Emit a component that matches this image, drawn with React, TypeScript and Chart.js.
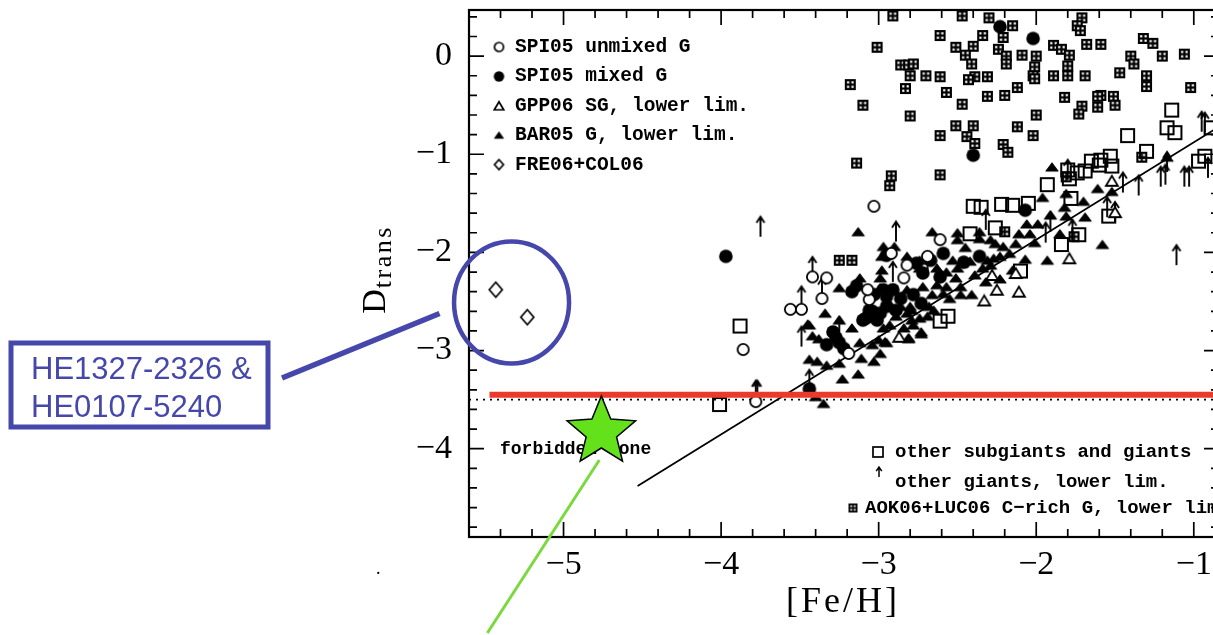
import { useEffect, useRef } from "react";
import { Chart, registerables } from "chart.js";

Chart.register(...registerables);

const CANVAS_W = 1240;
const CANVAS_H = 635;

// axis ranges and labelled ticks
const X_MIN = -5.6;
const X_MAX = -0.84;
const Y_MIN = -4.9;
const Y_MAX = 0.47;
const xTickValues = [-5, -4, -3, -2, -1];
const yTickValues = [0, -1, -2, -3, -4];
const MINOR_STEP = 0.2;

type Pt = [number, number];

// SPI05 unmixed giants
const spiUnmixed: Pt[] = [
  [-3.03, -1.53], [-3.42, -2.25], [-3.33, -2.26], [-3.36, -2.47], [-3.56, -2.58], [-3.49, -2.58],
  [-3.86, -2.99], [-3.78, -3.52], [-3.19, -3.03], [-2.61, -1.87], [-2.92, -2.01], [-2.84, -2.26],
  [-2.82, -2.13], [-2.69, -2.04], [-3.06, -2.48], [-3.07, -2.38],
];

// SPI05 mixed giants
const spiMixed: Pt[] = [
  [-3.97, -2.04], [-2.23, 0.3], [-2.02, 0.18], [-2.4, -1.01], [-2.07, -1.57], [-3.14, -2.34],
  [-2.59, -2.01], [-2.95, -2.03], [-2.76, -2.11], [-2.67, -2.08], [-2.46, -2.1], [-2.36, -2.04],
  [-2.97, -2.38], [-2.91, -2.38], [-3.04, -2.6], [-2.99, -2.62], [-2.95, -2.55], [-3.08, -2.67],
  [-3.29, -2.81], [-3.27, -2.87], [-3.25, -2.92], [-3.22, -2.98], [-2.72, -2.21], [-2.61, -2.25],
  [-2.73, -2.52], [-3.03, -2.43], [-2.95, -2.45], [-2.86, -2.47], [-2.78, -2.43], [-3.17, -2.4],
  [-3.06, -2.59], [-3.1, -2.69], [-3.01, -2.69], [-2.89, -2.59], [-3.44, -3.39], [-3.33, -2.94],
];

// GPP06 subgiants, lower limits
const gppSubgiants: Pt[] = [
  [-1.52, -1.27], [-1.79, -2.06], [-2.11, -2.4], [-2.25, -2.38], [-2.33, -2.49], [-2.28, -2.23],
  [-2.13, -2.21], [-2.87, -2.86], [-1.5, -1.59],
];

// BAR05 giants, lower limits
const barGiants: Pt[] = [
  [-3.13, -1.79], [-1.9, -1.13], [-1.96, -1.44], [-1.81, -1.4], [-1.61, -1.35], [-1.52, -1.38],
  [-1.7, -1.48], [-1.69, -1.64], [-1.82, -1.54], [-1.81, -1.63], [-1.85, -1.81], [-1.58, -1.92],
  [-1.93, -2.08], [-2.06, -1.71], [-2.04, -1.81], [-1.99, -1.71], [-2.01, -1.9], [-2.11, -1.81],
  [-2.13, -1.91], [-2.07, -2.07], [-2.17, -2.01], [-2.21, -1.94], [-2.26, -1.91], [-2.29, -1.87],
  [-2.36, -1.86], [-2.23, -2.04], [-2.41, -2.43], [-2.66, -1.79], [-2.5, -1.8], [-2.5, -1.87],
  [-2.36, -1.79], [-3.25, -2.36], [-3.44, -2.74], [-3.34, -2.62], [-3.42, -2.85], [-3.38, -2.88],
  [-3.25, -2.69], [-3.17, -2.77], [-3.39, -3.11], [-3.33, -3.15], [-3.25, -3.13], [-3.12, -2.26],
  [-2.98, -2.18], [-2.99, -2.26], [-2.98, -2.04], [-2.97, -1.94], [-2.9, -1.94], [-2.82, -2.04],
  [-2.74, -2.08], [-2.74, -2.16], [-2.53, -2.08], [-2.47, -2.11], [-2.42, -2.09], [-2.31, -2.08],
  [-2.27, -2.06], [-2.63, -2.16], [-2.57, -2.2], [-2.5, -2.16], [-2.51, -2.26], [-2.39, -2.23],
  [-2.34, -2.16], [-2.29, -2.13], [-2.99, -2.36], [-2.93, -2.38], [-2.82, -2.38], [-2.72, -2.35],
  [-2.63, -2.33], [-2.57, -2.35], [-2.48, -2.35], [-2.66, -2.43], [-2.59, -2.42], [-2.55, -2.47],
  [-2.48, -2.43], [-2.79, -2.59], [-2.68, -2.55], [-2.93, -2.53], [-2.86, -2.55], [-2.8, -2.55],
  [-2.97, -2.77], [-2.93, -2.74], [-2.84, -2.77], [-2.79, -2.69], [-2.74, -2.67], [-2.65, -2.59],
  [-2.69, -2.65], [-2.89, -2.65], [-2.82, -2.62], [-2.78, -2.74], [-2.73, -2.81], [-2.81, -2.87],
  [-3.0, -2.89], [-2.95, -2.92], [-3.04, -2.94], [-3.12, -2.92], [-3.11, -3.08], [-3.03, -3.11],
  [-2.99, -3.03], [-3.23, -3.29], [-3.13, -3.24], [-3.4, -3.47], [-3.35, -3.54], [-2.81, -2.88],
  [-2.73, -2.83], [-2.96, -2.91], [-3.45, -2.73], [-3.44, -3.09], [-1.91, -1.62], [-2.32, -2.3],
  [-2.23, -2.27], [-2.15, -2.18], [-2.45, -1.95], [-1.17, -1.03],
];

// FRE06 + COL06 stars
const freCol: Pt[] = [[-5.43, -2.38], [-5.23, -2.66]];

// other subgiants and giants
const otherSubgiants: Pt[] = [
  [-3.88, -2.75], [-4.01, -3.55], [-1.14, -0.55], [-1.17, -0.73], [-1.12, -0.78], [-1.42, -0.81],
  [-1.3, -0.97], [-0.93, -1.02], [-0.97, -1.07], [-0.89, -0.73], [-1.65, -1.07], [-1.59, -1.06],
  [-1.53, -1.02], [-1.52, -1.12], [-1.6, -1.11], [-1.8, -1.16], [-1.79, -1.25], [-1.74, -1.19],
  [-1.69, -1.17], [-1.93, -1.31], [-1.78, -1.45], [-2.4, -1.53], [-2.35, -1.54], [-2.22, -1.51],
  [-2.15, -1.52], [-2.05, -1.5], [-1.54, -1.63], [-1.84, -1.92], [-1.73, -1.82], [-2.42, -1.81],
  [-2.26, -1.75], [-2.1, -2.19], [-2.56, -2.65], [-2.61, -2.7],
];

// other giants, lower limits
const otherGiantsLim: Pt[] = [
  [-3.75, -1.84], [-2.89, -1.89], [-3.42, -2.25], [-3.49, -2.55], [-3.49, -2.96], [-3.25, -2.86],
  [-3.78, -3.51], [-3.77, -3.51], [-3.44, -3.4], [-2.91, -2.3], [-2.69, -2.23], [-2.32, -1.77],
  [-3.36, -2.47], [-0.95, -0.77], [-0.93, -0.78], [-1.18, -1.31], [-1.17, -1.18], [-1.21, -1.33],
  [-1.06, -1.33], [-1.03, -1.33], [-0.91, -1.24], [-1.35, -1.42], [-1.45, -1.39], [-1.8, -1.26],
  [-1.55, -1.64], [-1.5, -1.69], [-1.91, -1.79], [-1.94, -1.9], [-1.77, -1.87], [-1.11, -2.13],
];

// AOK06 + LUC06 carbon-rich giants, lower limits
const carbonRich: Pt[] = [
  [-2.91, 0.41], [-2.61, 0.21], [-3.01, 0.09], [-2.51, 0.09], [-2.86, -0.09], [-2.81, -0.09],
  [-2.78, -0.08], [-2.8, -0.2], [-2.7, -0.2], [-2.61, -0.21], [-3.18, -0.29], [-2.83, -0.33],
  [-2.57, -0.37], [-2.47, -0.49], [-3.1, -0.5], [-2.8, -0.61], [-2.51, -0.71], [-2.61, -0.81],
  [-3.14, -1.09], [-2.92, -1.22], [-2.93, -1.32], [-2.61, -1.21], [-2.47, 0.41], [-2.3, 0.39],
  [-2.15, 0.31], [-2.34, 0.21], [-2.21, 0.19], [-2.4, 0.1], [-2.24, 0.07], [-2.19, 0.0],
  [-2.19, -0.08], [-2.45, 0.01], [-2.41, -0.08], [-2.09, 0.01], [-2.0, 0.0], [-2.01, -0.11],
  [-2.02, -0.2], [-2.01, -0.23], [-1.89, 0.11], [-1.84, 0.07], [-1.79, 0.01], [-1.8, -0.1],
  [-1.8, -0.2], [-1.71, 0.39], [-1.74, 0.31], [-1.72, 0.26], [-1.68, 0.12], [-1.59, 0.12],
  [-1.89, -0.2], [-1.69, -0.2], [-1.47, -0.17], [-1.4, 0.0], [-1.38, -0.08], [-1.32, 0.18],
  [-1.26, 0.13], [-1.3, -0.2], [-1.3, -0.31], [-1.2, 0.0], [-1.06, 0.02], [-1.02, -0.32],
  [-2.39, -0.21], [-2.43, -0.24], [-2.31, -0.21], [-2.12, -0.32], [-2.31, -0.41], [-2.2, -0.4],
  [-1.82, -0.42], [-1.71, -0.51], [-1.73, -0.59], [-1.59, -0.4], [-1.61, -0.41], [-1.61, -0.52],
  [-1.51, -0.41], [-1.5, -0.5], [-2.0, -0.6], [-2.4, -0.71], [-2.12, -0.72], [-2.44, -0.82],
  [-2.39, -0.89], [-2.02, -0.81], [-2.21, -0.9], [-2.18, -0.98], [-3.25, -2.08], [-3.17, -2.08],
  [-1.33, -1.03], [-1.81, -1.23], [-1.76, -1.84], [-2.2, -1.79],
];

// linear trend line end points
const trendLine: Pt[] = [[-4.53, -4.38], [-0.84, -0.72]];

// limit levels
const transitionLimit = -3.45;
const transitionLimitStart = -5.47;
const dottedLevel = -3.5;

// highlighted objects
const starFeH = -4.76;
const starD = -3.83;
const circledFeH = -5.33;
const circledD = -2.51;

const BLUE = "#4548aa";
const RED = "#ea3a2c";
const GREEN_FILL = "#63e21c";
const GREEN_LINE = "#7ad93e";

const toXY = (pts: Pt[]) => pts.map(([x, y]) => ({ x, y }));
const fmtTick = (v: number) => (v < 0 ? "\u2212" + Math.abs(v) : String(v));

type Draw = (g: CanvasRenderingContext2D, cx: number, cy: number) => void;

function mk(w: number, h: number, draw: Draw): HTMLCanvasElement {
  const c = document.createElement("canvas");
  c.width = w;
  c.height = h;
  const g = c.getContext("2d")!;
  g.strokeStyle = "#000";
  g.fillStyle = "#000";
  g.lineJoin = "miter";
  draw(g, w / 2, h / 2);
  return c;
}

const openCircle = (r: number, lw: number) =>
  mk(Math.ceil(2 * r + lw + 2), Math.ceil(2 * r + lw + 2), (g, cx, cy) => {
    g.beginPath();
    g.arc(cx, cy, r, 0, Math.PI * 2);
    g.fillStyle = "#fff";
    g.fill();
    g.lineWidth = lw;
    g.stroke();
  });

const filledCircle = (r: number) =>
  mk(Math.ceil(2 * r + 2), Math.ceil(2 * r + 2), (g, cx, cy) => {
    g.beginPath();
    g.arc(cx, cy, r, 0, Math.PI * 2);
    g.fill();
  });

const openTriangle = (w: number, h: number, lw: number) =>
  mk(Math.ceil(w + 4), Math.ceil(h + 4), (g, cx, cy) => {
    g.beginPath();
    g.moveTo(cx - w / 2, cy + h / 2);
    g.lineTo(cx + w / 2, cy + h / 2);
    g.lineTo(cx, cy - h / 2);
    g.closePath();
    g.fillStyle = "#fff";
    g.fill();
    g.lineWidth = lw;
    g.stroke();
  });

const filledTriangle = (w: number, h: number) =>
  mk(Math.ceil(w + 4), Math.ceil(h + 4), (g, cx, cy) => {
    g.beginPath();
    g.moveTo(cx - w / 2, cy + h / 2);
    g.lineTo(cx + w / 2, cy + h / 2);
    g.lineTo(cx, cy - h / 2);
    g.closePath();
    g.lineJoin = "round";
    g.lineWidth = 1.2;
    g.fill();
    g.stroke();
  });

const diamond = (w: number, h: number, lw: number) =>
  mk(Math.ceil(w + 4), Math.ceil(h + 4), (g, cx, cy) => {
    g.beginPath();
    g.moveTo(cx, cy - h / 2);
    g.lineTo(cx + w / 2, cy);
    g.lineTo(cx, cy + h / 2);
    g.lineTo(cx - w / 2, cy);
    g.closePath();
    g.fillStyle = "#fff";
    g.fill();
    g.lineWidth = lw;
    g.stroke();
  });

const openSquare = (s: number, lw: number) =>
  mk(Math.ceil(s + lw + 2), Math.ceil(s + lw + 2), (g, cx, cy) => {
    g.lineWidth = lw;
    g.strokeRect(cx - s / 2, cy - s / 2, s, s);
  });

const gridSquare = (s: number) =>
  mk(s + 2, s + 2, (g, cx, cy) => {
    const x0 = cx - s / 2;
    const y0 = cy - s / 2;
    g.fillRect(x0, y0, s, s);
    g.fillStyle = "#fff";
    const d = s * 0.2;
    const a = s * 0.2;
    const b = s * 0.6;
    g.fillRect(x0 + a, y0 + a, d, d);
    g.fillRect(x0 + b, y0 + a, d, d);
    g.fillRect(x0 + a, y0 + b, d, d);
    g.fillRect(x0 + b, y0 + b, d, d);
  });

// arrow whose tail sits on the image centre and points upward
const upArrow = (len: number, head: number, lw: number) =>
  mk(Math.ceil(2 * head + 6), Math.ceil(2 * len + 6), (g, cx, cy) => {
    g.lineWidth = lw;
    g.lineCap = "butt";
    g.beginPath();
    g.moveTo(cx, cy);
    g.lineTo(cx, cy - len);
    g.moveTo(cx - head, cy - len + head * 1.5);
    g.lineTo(cx, cy - len);
    g.lineTo(cx + head, cy - len + head * 1.5);
    g.stroke();
  });

function buildMarkers() {
  return {
    openCircle: openCircle(5.6, 1.8),
    filledCircle: filledCircle(6.8),
    openTriangle: openTriangle(12, 10, 1.8),
    filledTriangle: filledTriangle(12, 8),
    diamond: diamond(13, 15, 1.7),
    openSquare: openSquare(13, 2),
    gridSquare: gridSquare(11),
    arrow: upArrow(20, 4, 1.9),
    lgOpenCircle: openCircle(4.5, 1.7),
    lgFilledCircle: filledCircle(5.2),
    lgOpenTriangle: openTriangle(9.5, 8, 1.7),
    lgFilledTriangle: filledTriangle(8.5, 6),
    lgDiamond: diamond(9, 10, 1.7),
    lgOpenSquare: openSquare(10, 1.7),
    lgGridSquare: gridSquare(9),
    lgArrow: upArrow(10, 2.8, 1.5),
  };
}

export default function App() {
  const ref = useRef<HTMLCanvasElement>(null);

  useEffect(() => {
    const canvas = ref.current;
    if (!canvas) return;
    const m = buildMarkers();

    const framePlugin = {
      id: "frameTicks",
      beforeDatasetsDraw(chart: any) {
        const { ctx, chartArea: a, scales } = chart;
        const xs = scales.x;
        const ys = scales.y;
        ctx.save();
        ctx.strokeStyle = "#000";
        ctx.lineWidth = 1.7;
        ctx.beginPath();
        const kx0 = Math.ceil(X_MIN / MINOR_STEP - 1e-6);
        const kx1 = Math.floor(X_MAX / MINOR_STEP + 1e-6);
        for (let k = kx0; k <= kx1; k++) {
          const v = k * MINOR_STEP;
          const px = xs.getPixelForValue(v);
          if (px < a.left + 1 || px > a.right - 1) continue;
          const len = Math.abs(v - Math.round(v)) < 1e-6 ? 15 : 8;
          ctx.moveTo(px, a.bottom);
          ctx.lineTo(px, a.bottom - len);
          ctx.moveTo(px, a.top);
          ctx.lineTo(px, a.top + len);
        }
        const ky0 = Math.ceil(Y_MIN / MINOR_STEP - 1e-6);
        const ky1 = Math.floor(Y_MAX / MINOR_STEP + 1e-6);
        for (let k = ky0; k <= ky1; k++) {
          const v = k * MINOR_STEP;
          const py = ys.getPixelForValue(v);
          if (py < a.top + 1 || py > a.bottom - 1) continue;
          const len = Math.abs(v - Math.round(v)) < 1e-6 ? 15 : 8;
          ctx.moveTo(a.left, py);
          ctx.lineTo(a.left + len, py);
          ctx.moveTo(a.right, py);
          ctx.lineTo(a.right - len, py);
        }
        ctx.stroke();
        ctx.lineWidth = 2.2;
        ctx.strokeRect(a.left, a.top, a.right - a.left, a.bottom - a.top);
        ctx.restore();
      },
    };

    const decorPlugin = {
      id: "decor",
      afterDraw(chart: any) {
        const { ctx, chartArea: a, scales } = chart;
        const xs = scales.x;
        const ys = scales.y;
        const put = (img: HTMLCanvasElement, x: number, y: number) =>
          ctx.drawImage(img, x - img.width / 2, y - img.height / 2);

        ctx.save();
        ctx.fillStyle = "#000";
        ctx.textBaseline = "middle";
        ctx.textAlign = "left";

        // upper-left key
        ctx.font = "bold 19.5px 'Liberation Mono', monospace";
        const keyRows: [HTMLCanvasElement, string][] = [
          [m.lgOpenCircle, "SPI05 unmixed G"],
          [m.lgFilledCircle, "SPI05 mixed G"],
          [m.lgOpenTriangle, "GPP06 SG, lower lim."],
          [m.lgFilledTriangle, "BAR05 G, lower lim."],
          [m.lgDiamond, "FRE06+COL06"],
        ];
        keyRows.forEach(([img, label], i) => {
          const y = 47 + i * 29.4;
          put(img, 499, y);
          ctx.fillText(label, 515, y);
        });

        // lower-right key
        ctx.font = "bold 19px 'Liberation Mono', monospace";
        put(m.lgOpenSquare, 878, 452);
        ctx.fillText("other subgiants and giants", 895, 452);
        put(m.lgArrow, 879, 477);
        ctx.fillText("other giants, lower lim.", 895, 482);
        put(m.lgGridSquare, 853, 508);
        ctx.fillText("AOK06+LUC06 C\u2212rich G, lower lim.", 865, 508);

        // forbidden zone label
        ctx.font = "bold 18px 'Liberation Mono', monospace";
        ctx.fillText("forbidden zone", 500, 449);

        // x-axis title
        ctx.font = "36px 'Liberation Serif', serif";
        (ctx as any).letterSpacing = "3px";
        ctx.textAlign = "center";
        ctx.textBaseline = "alphabetic";
        ctx.fillText("[Fe/H]", (a.left + a.right) / 2 - 1, 612);

        // y-axis title with subscript
        ctx.save();
        ctx.translate(385, 270);
        ctx.rotate(-Math.PI / 2);
        ctx.textAlign = "left";
        ctx.font = "34px 'Liberation Serif', serif";
        (ctx as any).letterSpacing = "0px";
        const dW = ctx.measureText("D").width;
        ctx.font = "26px 'Liberation Serif', serif";
        (ctx as any).letterSpacing = "2.5px";
        const sW = ctx.measureText("trans").width;
        const start = -(dW + sW) / 2;
        ctx.font = "34px 'Liberation Serif', serif";
        (ctx as any).letterSpacing = "0px";
        ctx.fillText("D", start, 0);
        ctx.font = "26px 'Liberation Serif', serif";
        (ctx as any).letterSpacing = "2.5px";
        ctx.fillText("trans", start + dW + 1, 6);
        ctx.restore();
        (ctx as any).letterSpacing = "0px";

        // stray dot below the axis
        ctx.font = "18px 'Liberation Serif', serif";
        ctx.textAlign = "left";
        ctx.fillText(".", 376, 574);

        // blue callout around the two most iron-poor stars
        const ex = xs.getPixelForValue(circledFeH);
        const ey = ys.getPixelForValue(circledD);
        ctx.strokeStyle = BLUE;
        ctx.lineWidth = 4.5;
        ctx.beginPath();
        ctx.ellipse(ex, ey, 57.5, 61, 0, 0, Math.PI * 2);
        ctx.stroke();
        ctx.lineWidth = 5.5;
        ctx.beginPath();
        ctx.moveTo(ex - 72, ey + 11);
        ctx.lineTo(282, 378);
        ctx.stroke();
        ctx.lineWidth = 5;
        ctx.strokeRect(11, 343, 257, 84);
        ctx.fillStyle = BLUE;
        ctx.font = "31px 'Liberation Sans', Arial, sans-serif";
        ctx.fillText("HE1327-2326 &", 31, 379);
        ctx.fillText("HE0107-5240", 31, 417);

        // green star and its pointer line
        const sx = xs.getPixelForValue(starFeH);
        const sy = ys.getPixelForValue(starD);
        ctx.strokeStyle = GREEN_LINE;
        ctx.lineWidth = 3;
        ctx.beginPath();
        ctx.moveTo(sx - 2, sy + 28);
        ctx.lineTo(sx - 114, sy + 201);
        ctx.stroke();

        const R = 36;
        const r = 16;
        ctx.beginPath();
        for (let i = 0; i < 10; i++) {
          const ang = -Math.PI / 2 + (i * Math.PI) / 5;
          const rad = i % 2 === 0 ? R : r;
          const px = sx + rad * Math.cos(ang);
          const py = sy + rad * Math.sin(ang);
          if (i === 0) ctx.moveTo(px, py);
          else ctx.lineTo(px, py);
        }
        ctx.closePath();
        ctx.fillStyle = GREEN_FILL;
        ctx.fill();
        ctx.strokeStyle = "#000";
        ctx.lineWidth = 1.5;
        ctx.lineJoin = "miter";
        ctx.stroke();

        ctx.restore();
      },
    };

    const pointSet = (pts: Pt[], style: HTMLCanvasElement, order: number) => ({
      data: toXY(pts),
      pointStyle: style,
      pointRadius: 5,
      pointHoverRadius: 5,
      showLine: false,
      order,
    });

    const chart = new Chart(canvas, {
      type: "scatter",
      data: {
        datasets: [
          {
            data: [
              { x: transitionLimitStart, y: transitionLimit },
              { x: X_MAX, y: transitionLimit },
            ],
            showLine: true,
            borderColor: RED,
            borderWidth: 6,
            pointRadius: 0,
            order: 0,
          },
          pointSet(freCol, m.diamond, 1),
          pointSet(spiUnmixed, m.openCircle, 2),
          pointSet(spiMixed, m.filledCircle, 3),
          pointSet(gppSubgiants, m.openTriangle, 4),
          pointSet(barGiants, m.filledTriangle, 5),
          pointSet(otherGiantsLim, m.arrow, 6),
          pointSet(otherSubgiants, m.openSquare, 7),
          pointSet(carbonRich, m.gridSquare, 8),
          {
            data: toXY(trendLine),
            showLine: true,
            borderColor: "#000",
            borderWidth: 1.8,
            pointRadius: 0,
            order: 9,
          },
          {
            data: [
              { x: X_MIN, y: dottedLevel },
              { x: X_MAX, y: dottedLevel },
            ],
            showLine: true,
            borderColor: "#000",
            borderWidth: 1.6,
            borderDash: [2, 5],
            pointRadius: 0,
            order: 10,
          },
        ] as any,
      },
      options: {
        responsive: false,
        animation: false,
        events: [],
        devicePixelRatio: 1,
        layout: { padding: { top: 10, right: CANVAS_W - 1219, left: 0, bottom: 0 } },
        plugins: {
          legend: { display: false },
          tooltip: { enabled: false },
        },
        scales: {
          x: {
            type: "linear",
            min: X_MIN,
            max: X_MAX,
            grid: { display: false, drawTicks: false },
            border: { display: false },
            afterBuildTicks: (s: any) => {
              s.ticks = xTickValues.map((v) => ({ value: v }));
            },
            afterFit: (s: any) => {
              s.height = CANVAS_H - 537;
              s.paddingLeft = 0;
              s.paddingRight = 0;
            },
            ticks: {
              autoSkip: false,
              maxRotation: 0,
              padding: 8,
              color: "#000",
              font: { family: "'Liberation Serif', serif", size: 34 },
              callback: (v: any) => fmtTick(Number(v)),
            },
          },
          y: {
            type: "linear",
            min: Y_MIN,
            max: Y_MAX,
            grid: { display: false, drawTicks: false },
            border: { display: false },
            afterBuildTicks: (s: any) => {
              s.ticks = yTickValues.map((v) => ({ value: v }));
            },
            afterFit: (s: any) => {
              s.width = 469;
              s.paddingTop = 0;
              s.paddingBottom = 0;
            },
            ticks: {
              autoSkip: false,
              padding: 17,
              color: "#000",
              font: { family: "'Liberation Serif', serif", size: 34 },
              callback: (v: any) => fmtTick(Number(v)),
            },
          },
        },
      } as any,
      plugins: [framePlugin, decorPlugin],
    });

    return () => chart.destroy();
  }, []);

  return (
    <div
      style={{
        position: "fixed",
        left: 0,
        top: 0,
        width: 1213,
        height: 635,
        overflow: "hidden",
        background: "#fff",
      }}
    >
      <canvas
        ref={ref}
        width={CANVAS_W}
        height={CANVAS_H}
        style={{ display: "block", width: CANVAS_W, height: CANVAS_H }}
      />
    </div>
  );
}
